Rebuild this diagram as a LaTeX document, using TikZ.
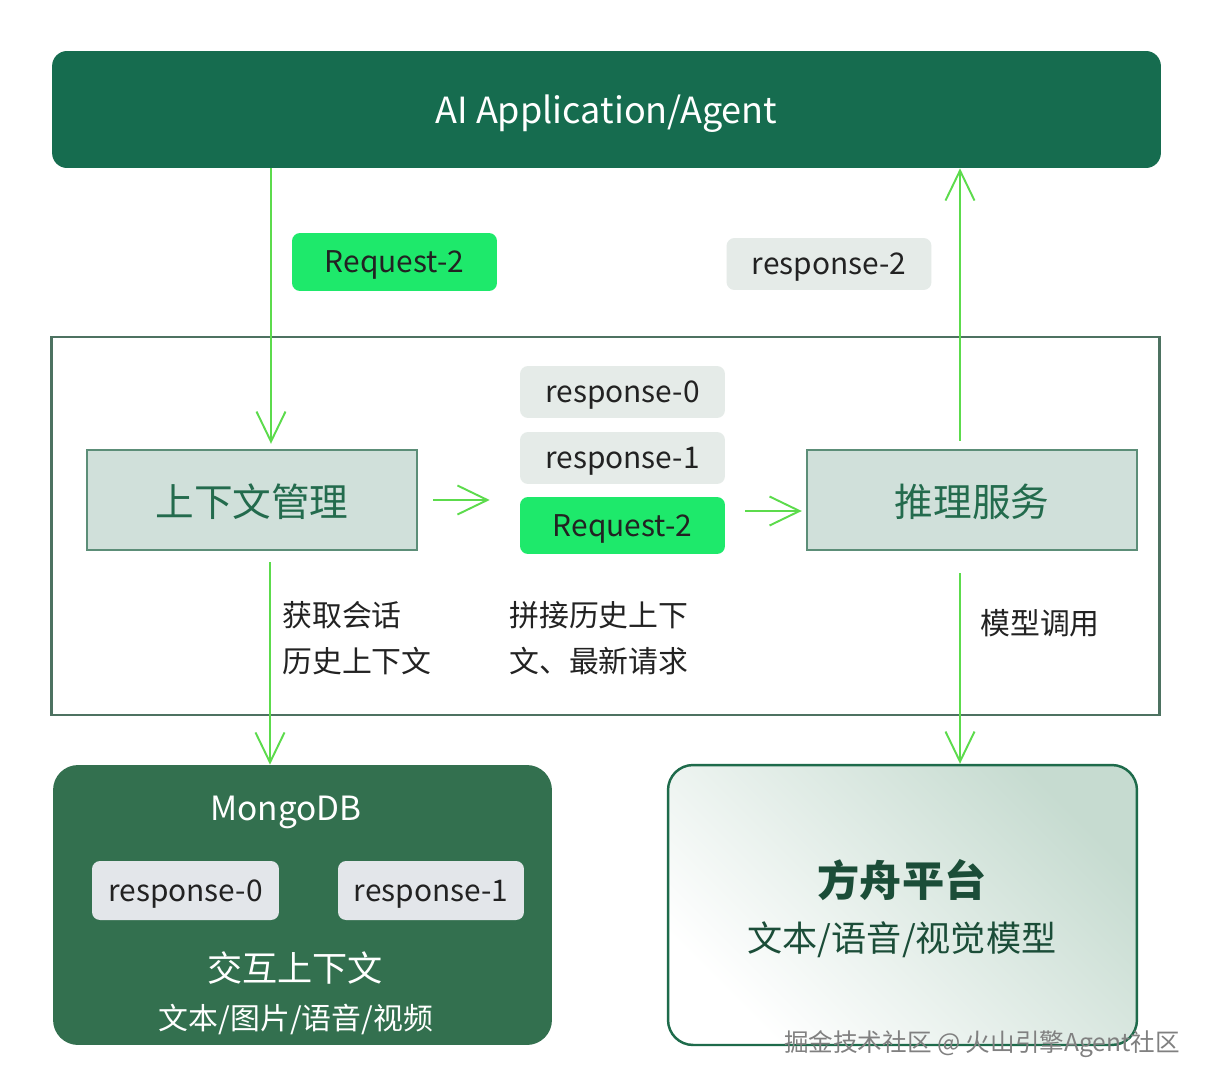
\documentclass[tikz,border=0pt]{standalone}
\usepackage{fontspec}
\setmainfont{Noto Sans CJK SC}
\usetikzlibrary{arrows.meta}
\begin{document}
\begin{tikzpicture}[x=0.02cm,y=-0.02cm,
  box/.style={rectangle,inner sep=0,align=center,text depth=0pt},
  chip/.style={box,rounded corners=0.16cm,minimum width=4.1cm,minimum height=1.04cm,font=\fontsize{17}{20}\selectfont,text=ink},
  stage/.style={box,fill=stagefill,draw=stageline,line width=1.4pt,minimum width=6.6cm,minimum height=2cm,font=\fontsize{22}{26}\selectfont,text=stagetext},
  store/.style={box,rounded corners=0.5cm,minimum height=5.6cm},
  flow/.style={draw=flowgreen,line width=1.1pt,-{Straight Barb[length=0.6cm,width=0.58cm]}},
  note/.style={inner sep=0,anchor=west,align=left,font=\fontsize{17}{26}\selectfont,text=ink}]
\definecolor{appgreen}{HTML}{166C4F}
\definecolor{flowgreen}{HTML}{5CDB4C}
\definecolor{reqgreen}{HTML}{1EE96B}
\definecolor{respgray}{HTML}{E5EBE8}
\definecolor{framegray}{HTML}{4D7261}
\definecolor{stagefill}{HTML}{D0E0DA}
\definecolor{stageline}{HTML}{5C8E78}
\definecolor{stagetext}{HTML}{236B4D}
\definecolor{mongogreen}{HTML}{33704F}
\definecolor{chipgray}{HTML}{E3E6EA}
\definecolor{arkline}{HTML}{1E6B4B}
\definecolor{arkdark}{HTML}{C6DBD0}
\definecolor{arktext}{HTML}{1B4D38}
\definecolor{ink}{HTML}{222222}
\path[fill=white,use as bounding box] (0,0) rectangle (1214,1088);
\node[box,fill=appgreen,rounded corners=0.3cm,minimum width=22.18cm,minimum height=2.34cm,text=white,font=\fontsize{20.5}{24}\selectfont] (app) at (606.5,109.5) {AI Application/Agent};
\node[chip,fill=reqgreen,minimum height=1.16cm] (toprq) at (394.5,262) {Request-2};
\node[chip,fill=respgray] (toprs) at (829,264) {response-2};
\node[box,draw=framegray,line width=1.6pt,minimum width=22.18cm,minimum height=7.56cm] (core) at (605.5,526) {};
\node[stage] (ctx) at (252,500) {上下文管理};
\node[stage] (infer) at (972,500) {推理服务};
  \foreach \nm/\clr/\txt/\ypos/\hgt in {r0/respgray/response-0/392/1.04,r1/respgray/response-1/458/1.04,rq/reqgreen/Request-2/525.5/1.14}
  {  \node[chip,fill=\clr,minimum height=\hgt cm] (\nm) at (622.5,\ypos) {\txt};}
\node[note] (fetch) at (282,638) {获取会话\\历史上下文};
\node[note] (merge) at (509,638) {拼接历史上下\\文、最新请求};
\node[note] (call) at (980,623) {模型调用};
\node[store,fill=mongogreen,minimum width=9.98cm] (mongo) at (302.5,905) {};
\node[box,text=white,font=\fontsize{19}{22}\selectfont] (mongoname) at (286,808) {MongoDB};
\node[chip,fill=chipgray,minimum width=3.74cm,minimum height=1.18cm] (m0) at (185.5,890.5) {response-0};
\node[chip,fill=chipgray,minimum width=3.72cm,minimum height=1.18cm] (m1) at (431,890.5) {response-1};
\node[box,text=white,font=\fontsize{20}{24}\selectfont] (mongoctx) at (295,967) {交互上下文};
\node[box,text=white,font=\fontsize{17}{20}\selectfont] (mongokind) at (296,1017) {文本/图片/语音/视频};
\node[store,draw=arkline,line width=1.4pt,top color=arkdark,bottom color=white,shading angle=-45,minimum width=9.38cm] (ark) at (902.5,905) {};
\node[box,text=arktext,font=\fontsize{24}{28}\selectfont\bfseries] (arkname) at (902,878) {方舟平台};
\node[box,text=arktext,font=\fontsize{20}{24}\selectfont] (arkkind) at (902,937) {文本/语音/视觉模型};
\draw[flow] ([xshift=0.38cm]ctx.north |- app.south) -- ([xshift=0.38cm,yshift=0.1cm]ctx.north);
\draw[flow,shorten <=0.3cm,shorten >=0.6cm] (ctx.east) -- (ctx.east -| r1.west);
\draw[flow,shorten <=0.4cm,shorten >=0.08cm] ([yshift=0.29cm]rq.east) -- ([yshift=0.29cm]rq.east -| infer.west);
\draw[flow] ([xshift=-0.24cm,yshift=0.16cm]infer.north) -- ([xshift=-0.24cm]infer.north |- app.south);
\draw[flow] ([xshift=0.36cm,yshift=-0.22cm]ctx.south) -- ([xshift=0.36cm]ctx.south |- mongo.north);
\draw[flow] ([xshift=-0.24cm,yshift=-0.44cm]infer.south) -- ([xshift=-0.24cm]infer.south |- ark.north);
\node[text=gray,font=\fontsize{14}{16}\selectfont] (mark) at (982,1044) {掘金技术社区 @ 火山引擎Agent社区};
\end{tikzpicture}
\end{document}
